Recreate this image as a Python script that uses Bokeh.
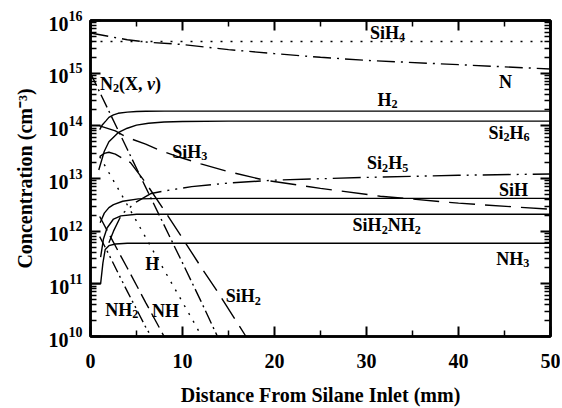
import math
from bokeh.plotting import figure
from bokeh.models import (Range1d, LinearAxis, LogAxis, FixedTicker, Label, CustomJSTickFormatter)
from bokeh.embed import file_html
from bokeh.resources import INLINE

# ---------------- data (x: mm from silane inlet, y: cm^-3) ----------------
SIH4_X = [0, 10, 20, 30, 40, 50]
SIH4_Y = [4.0e15, 4.0e15, 4.0e15, 4.0e15, 4.0e15, 4.0e15]

N_X = [0, 2, 4, 6, 10, 15, 20, 25, 30, 40, 50]
N_Y = [5.8e15, 5.0e15, 4.3e15, 3.9e15, 3.5e15, 2.8e15, 2.35e15, 2.0e15, 1.75e15, 1.45e15, 1.2e15]

N2V_X = [0, 2, 4, 6, 8, 10, 12, 13.8]
N2V_Y = [1.0e15, 1.9e14, 3.6e13, 6.8e12, 1.3e12, 2.5e11, 4.7e10, 1.0e10]

H2_X = [1.0, 1.3, 1.65, 2.0, 2.5, 3.0, 4.0, 5.0, 6.0, 8.0, 10.0, 50.0]
H2_Y = [8.5e13, 1.05e14, 1.23e14, 1.45e14, 1.62e14, 1.73e14, 1.82e14, 1.87e14, 1.89e14, 1.9e14, 1.9e14, 1.9e14]

SI2H6_X = [0.9, 1.5, 2.0, 3.0, 4.0, 5.0, 6.3, 8.0, 10.0, 15.0, 50.0]
SI2H6_Y = [1.45e13, 3.3e13, 5.0e13, 7.4e13, 9.0e13, 1.03e14, 1.12e14, 1.18e14, 1.21e14, 1.23e14, 1.23e14]

SIH3_X = [1.0, 2.7, 4.0, 6.0, 7.6, 9.8, 12.0, 15.0, 18.8, 25.0, 31.5, 40.0, 50.0]
SIH3_Y = [1.0e14, 8.0e13, 6.0e13, 4.5e13, 3.4e13, 2.5e13, 1.9e13, 1.35e13, 9.4e12, 6.5e12, 4.6e12, 3.4e12, 2.6e12]

SI2H5_X = [2.0, 2.5, 3.4, 5.0, 6.6, 8.0, 11.0, 15.0, 20.0, 30.0, 40.0, 50.0]
SI2H5_Y = [6.0e11, 1.0e12, 2.1e12, 3.6e12, 5.2e12, 5.8e12, 7.0e12, 8.2e12, 9.3e12, 1.05e13, 1.15e13, 1.22e13]

SIH_X = [1.05, 1.5, 2.0, 2.5, 3.5, 5.2, 8.0, 50.0]
SIH_Y = [1.45e12, 2.2e12, 2.8e12, 3.2e12, 3.7e12, 4.1e12, 4.2e12, 4.2e12]

SIH2NH2_X = [1.1, 1.4, 1.8, 2.5, 3.3, 5.0, 50.0]
SIH2NH2_Y = [3.2e11, 7.0e11, 1.15e12, 1.7e12, 1.95e12, 2.1e12, 2.1e12]

NH3_X = [0.0, 1.1, 1.35, 1.6, 2.0, 2.7, 4.0, 50.0]
NH3_Y = [1.0e11, 1.0e11, 2.5e11, 4.5e11, 5.3e11, 5.7e11, 5.9e11, 5.9e11]

H_X = [1.0, 3.0, 5.0, 7.0, 9.0, 11.0, 12.1]
H_Y = [2.6e13, 6.4e12, 1.55e12, 3.7e11, 9.1e10, 2.2e10, 1.0e10]

NH_X = [1.0, 2.0, 3.0, 4.0, 5.0, 6.0, 7.0, 8.0]
NH_Y = [1.9e12, 8.9e11, 4.2e11, 2.0e11, 9.4e10, 4.4e10, 2.1e10, 1.0e10]

NH2_X = [1.0, 2.0, 3.0, 4.0, 5.0, 6.0, 6.6]
NH2_Y = [7.9e11, 3.6e11, 1.6e11, 7.2e10, 3.3e10, 1.5e10, 1.0e10]

SIH2_X = [1.0, 1.5, 2.0, 2.7, 3.4, 4.35, 6.0, 8.0, 9.8, 12.0, 14.0, 16.9]
SIH2_Y = [2.6e13, 3.0e13, 3.15e13, 2.9e13, 2.45e13, 2.0e13, 8.3e12, 2.5e12, 8.3e11, 2.1e11, 6.3e10, 1.0e10]

X_TICKS = [0, 10, 20, 30, 40, 50]
X_MINOR = [5, 15, 25, 35, 45]
Y_TICKS = [1e10, 1e11, 1e12, 1e13, 1e14, 1e15, 1e16]

X_TITLE = "Distance From Silane Inlet (mm)"
Y_TITLE = "Concentration (cm\u207b\u00b3)"

# ---------------- figure ----------------
FONT = "Liberation Serif"
p = figure(width=560, height=408, y_axis_type="log",
           x_range=Range1d(0, 50), y_range=Range1d(1e10, 1e16),
           output_backend="svg", toolbar_location=None,
           min_border_left=90, min_border_right=10, min_border_top=20, min_border_bottom=65)
p.xgrid.grid_line_color = None
p.ygrid.grid_line_color = None
p.outline_line_color = "black"
p.outline_line_width = 2.5
p.background_fill_color = "white"
p.border_fill_color = "white"

xt = FixedTicker(ticks=X_TICKS, minor_ticks=X_MINOR)
yt = FixedTicker(ticks=Y_TICKS, minor_ticks=[m * 10 ** e for e in range(10, 16) for m in range(2, 10)])

def style_axis(ax, show_labels=True):
    ax.major_tick_in = 10
    ax.major_tick_out = 0
    ax.minor_tick_in = 6
    ax.minor_tick_out = 0
    ax.axis_line_width = 2.5
    ax.axis_line_color = "black"
    ax.major_tick_line_width = 2
    ax.minor_tick_line_width = 1.5
    ax.major_tick_line_color = "black"
    ax.minor_tick_line_color = "black"
    ax.major_label_text_font = FONT
    ax.major_label_text_font_style = "bold"
    ax.major_label_text_font_size = "20px"
    ax.major_label_text_color = "black"
    ax.axis_label_text_font = FONT
    ax.axis_label_text_font_style = "bold"
    ax.axis_label_text_font_size = "20px"
    ax.axis_label_text_color = "black"
    if not show_labels:
        ax.formatter = CustomJSTickFormatter(code="return ''")
        ax.major_label_text_font_size = "1px"

p.xaxis[0].ticker = xt
p.yaxis[0].ticker = yt
style_axis(p.xaxis[0])
style_axis(p.yaxis[0])
p.xaxis[0].major_label_standoff = 17
p.yaxis[0].major_label_standoff = 8
p.xaxis[0].axis_label = X_TITLE
p.xaxis[0].axis_label_standoff = 13
p.xaxis[0].axis_label_text_line_height = 0.7
p.yaxis[0].axis_label = Y_TITLE
p.yaxis[0].axis_label_standoff = 10

top = LinearAxis(ticker=xt)
style_axis(top, False)
p.add_layout(top, "above")
right = LogAxis(ticker=yt)
style_axis(right, False)
p.add_layout(right, "right")

# ---------------- curves ----------------
LW = 1.4
def curve(xs, ys, dash="solid"):
    p.line(xs, ys, line_color="black", line_width=LW, line_dash=dash)

curve(SIH4_X, SIH4_Y, "2 8")
curve(N_X, N_Y, "18 6 2 6")
curve(N2V_X, N2V_Y, "14 4 2 4")
curve(H2_X, H2_Y)
curve(SI2H6_X, SI2H6_Y)
curve(SIH3_X, SIH3_Y, "26 10")
curve(SI2H5_X, SI2H5_Y, "28 6 2 6 2 6")
curve(SIH_X, SIH_Y)
curve(SIH2NH2_X, SIH2NH2_Y)
curve(NH3_X, NH3_Y)
curve(H_X, H_Y, "2 7")
curve(NH_X, NH_Y, "16 6")
curve(NH2_X, NH2_Y, "12 4 2 4 2 4")
curve(SIH2_X, SIH2_Y, "24 9")

# ---------------- rich-text labels inside the frame ----------------
WID = {' ': 250, '(': 333, ')': 333, ',': 250, 'H': 778, 'N': 722, 'S': 556, 'X': 722,
       'i': 278, 'v': 444}

def tw(s, fs):
    return sum(WID.get(c, 500) for c in s) * fs / 1000.0

def rich(x, y, parts, fs=18):
    items = []
    for text, kind in parts:
        s = fs * 0.68 if kind == "sub" else fs
        items.append((text, kind, s, tw(text, s)))
    total = sum(it[3] for it in items)
    pos = -total / 2.0
    for text, kind, s, w in items:
        dy = 0.0 - (0.24 * fs if kind == "sub" else 0.0)
        p.add_layout(Label(x=x, y=y, x_offset=pos, y_offset=dy, text=text,
                           text_font=FONT, text_font_size=f"{s:.1f}px",
                           text_font_style="bold italic" if kind == "it" else "bold",
                           text_color="black", text_align="left", text_baseline="alphabetic"))
        pos += w

rich(32.3, 10 ** 15.77, [("SiH", "n"), ("4", "sub")])
rich(45.1, 10 ** 14.83, [("N", "n")])
rich(4.35, 10 ** 14.80, [("N", "n"), ("2", "sub"), ("(X, ", "n"), ("v", "it"), (")", "n")])
rich(32.3, 10 ** 14.50, [("H", "n"), ("2", "sub")])
rich(45.5, 10 ** 13.87, [("Si", "n"), ("2", "sub"), ("H", "n"), ("6", "sub")])
rich(10.8, 10 ** 13.51, [("SiH", "n"), ("3", "sub")])
rich(32.3, 10 ** 13.29, [("Si", "n"), ("2", "sub"), ("H", "n"), ("5", "sub")])
rich(45.98, 10 ** 12.78, [("SiH", "n")])
rich(32.2, 10 ** 12.11, [("SiH", "n"), ("2", "sub"), ("NH", "n"), ("2", "sub")])
rich(45.9, 10 ** 11.48, [("NH", "n"), ("3", "sub")])
rich(6.7, 10 ** 11.38, [("H", "n")])
rich(3.4, 10 ** 10.50, [("NH", "n"), ("2", "sub")])
rich(8.15, 10 ** 10.49, [("NH", "n")])
rich(16.6, 10 ** 10.76, [("SiH", "n"), ("2", "sub")])

open("out.html", "w").write(file_html(p, INLINE))
